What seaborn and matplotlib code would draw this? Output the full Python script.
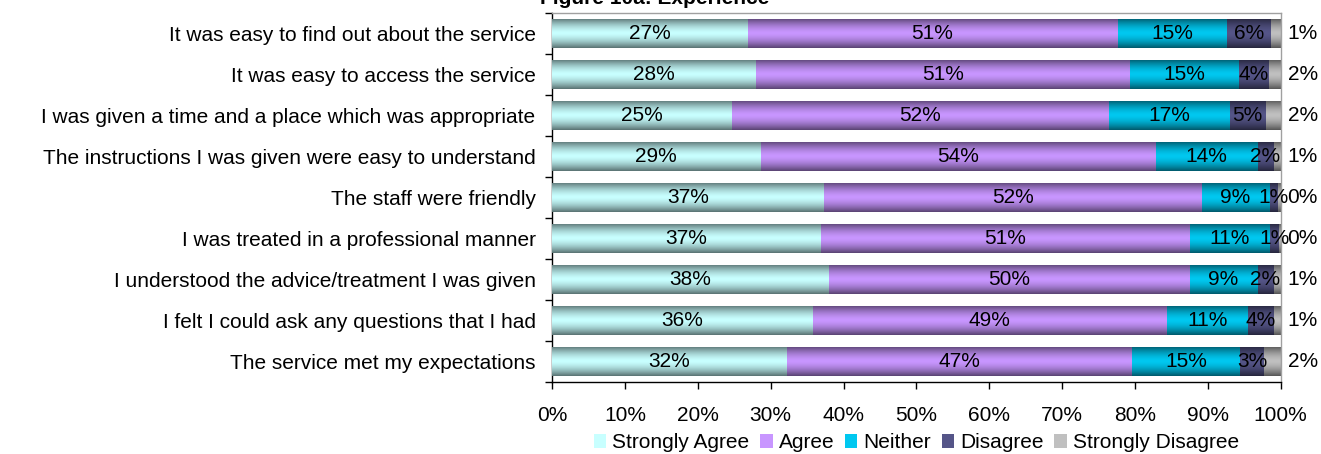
import numpy as np
import pandas as pd
import matplotlib
matplotlib.use("Agg")
import matplotlib.pyplot as plt
import matplotlib.colors as mcolors
from matplotlib.patches import Patch
import seaborn as sns

# Questions (top to bottom)
questions = [
    "It was easy to find out about the service",
    "It was easy to access the service",
    "I was given a time and a place which was appropriate",
    "The instructions I was given were easy to understand",
    "The staff were friendly",
    "I was treated in a professional manner",
    "I understood the advice/treatment I was given",
    "I felt I could ask any questions that I had",
    "The service met my expectations",
]

# Shares (%)
strongly_agree = [26.8, 28.0, 24.6, 28.6, 37.3, 36.8, 37.9, 35.7, 32.2]
agree = [50.8, 51.3, 51.8, 54.3, 51.8, 50.7, 49.6, 48.6, 47.4]
neither = [15.0, 14.9, 16.6, 13.9, 9.4, 11.0, 9.3, 11.2, 14.8]
disagree = [6.0, 4.1, 4.9, 2.2, 1.1, 1.2, 2.2, 3.5, 3.3]
strongly_disagree = [1.4, 1.7, 2.1, 1.0, 0.4, 0.3, 1.0, 1.0, 2.3]

series_names = ["Strongly Agree", "Agree", "Neither", "Disagree", "Strongly Disagree"]
base_colors = ["#c8ffff", "#c896ff", "#00c8f0", "#555588", "#c0c0c0"]

df = pd.DataFrame({
    "question": questions,
    "Strongly Agree": strongly_agree,
    "Agree": agree,
    "Neither": neither,
    "Disagree": disagree,
    "Strongly Disagree": strongly_disagree,
})
vals = df[series_names]
cum = vals.cumsum(axis=1)

sns.set_theme(style="white")
plt.rcParams["font.family"] = ["Liberation Sans", "DejaVu Sans"]
plt.rcParams["text.color"] = "black"
plt.rcParams["xtick.color"] = "black"
plt.rcParams["ytick.color"] = "black"
plt.rcParams["axes.labelcolor"] = "black"
FS = 15

fig = plt.figure(figsize=(13.21, 4.54), dpi=100)
ax = fig.add_axes([0.418, 0.1586, 0.5515, 0.8128])

# draw cumulative bars from the back (100%) to the front
layers = []
for i in range(len(series_names) - 1, -1, -1):
    n_before = len(ax.patches)
    sns.barplot(x=cum[series_names[i]], y=df["question"], color=base_colors[i],
                orient="h", width=0.71, ax=ax, saturation=1, zorder=2 + (4 - i) * 2)
    layers.append((i, ax.patches[n_before:]))

# cylinder-like shading on each bar
t = np.linspace(0, 1, 64)
shade = 1 - 0.55 * np.abs(2 * t - 1) ** 1.6
for i, patches in layers:
    rgb = np.array(mcolors.to_rgb(base_colors[i]))
    img = (shade[:, None, None] * rgb[None, None, :])
    for p in patches:
        p.set_edgecolor("none")
        x0, y0 = p.get_x(), p.get_y()
        w, h = p.get_width(), p.get_height()
        im = ax.imshow(img, extent=(x0, x0 + w, y0 + h, y0), aspect="auto",
                       zorder=p.get_zorder() + 0.5, interpolation="bilinear")
        im.set_clip_path(p)

ax.set_xlim(0, 100)
ax.set_ylim(len(questions) - 0.5, -0.5)

# value labels
for r in range(len(questions)):
    for i, name in enumerate(series_names[:4]):
        start = cum.iloc[r, i] - vals.iloc[r, i]
        mid = start + vals.iloc[r, i] / 2
        ax.text(mid, r, f"{round(vals.iloc[r, i])}%", ha="center", va="center",
                fontsize=FS, color="black", zorder=20)
    ax.text(103, r, f"{round(vals.iloc[r, 4])}%", ha="center", va="center",
            fontsize=FS, color="black", clip_on=False, zorder=20)

# axes styling
ax.set_xlabel("")
ax.set_ylabel("")
ax.set_xticks(np.arange(0, 101, 10))
ax.set_xticklabels([f"{v}%" for v in range(0, 101, 10)], fontsize=FS)
ax.tick_params(axis="x", length=5, width=1, color="black", labelcolor="black",
               pad=12, bottom=True)
ax.tick_params(axis="y", which="major", length=0, pad=12, labelsize=FS,
               labelcolor="black")
ax.set_yticks(np.arange(-0.5, len(questions), 1), minor=True)
ax.tick_params(axis="y", which="minor", length=5, width=1, color="black", left=True)
for s in ["left", "bottom"]:
    ax.spines[s].set_color("black")
    ax.spines[s].set_linewidth(1)
for s in ["top", "right"]:
    ax.spines[s].set_color("#a0a0a0")
    ax.spines[s].set_linewidth(1)
ax.set_facecolor("white")

handles = [Patch(facecolor=c, edgecolor="none") for c in base_colors]
leg = ax.legend(handles, series_names, loc="center", bbox_to_anchor=(0.5, -0.165),
                ncol=5, frameon=False, fontsize=FS, handlelength=0.6, handleheight=0.6,
                handletextpad=0.3, columnspacing=0.5, borderpad=0)
for txt in leg.get_texts():
    txt.set_color("black")

fig.text(540 / 1321, 1 - 4 / 454, "Figure 10a: Experience", fontsize=FS,
         fontweight="bold", ha="left", va="baseline", color="black")

fig.savefig("out.png", dpi=100, facecolor="white")
